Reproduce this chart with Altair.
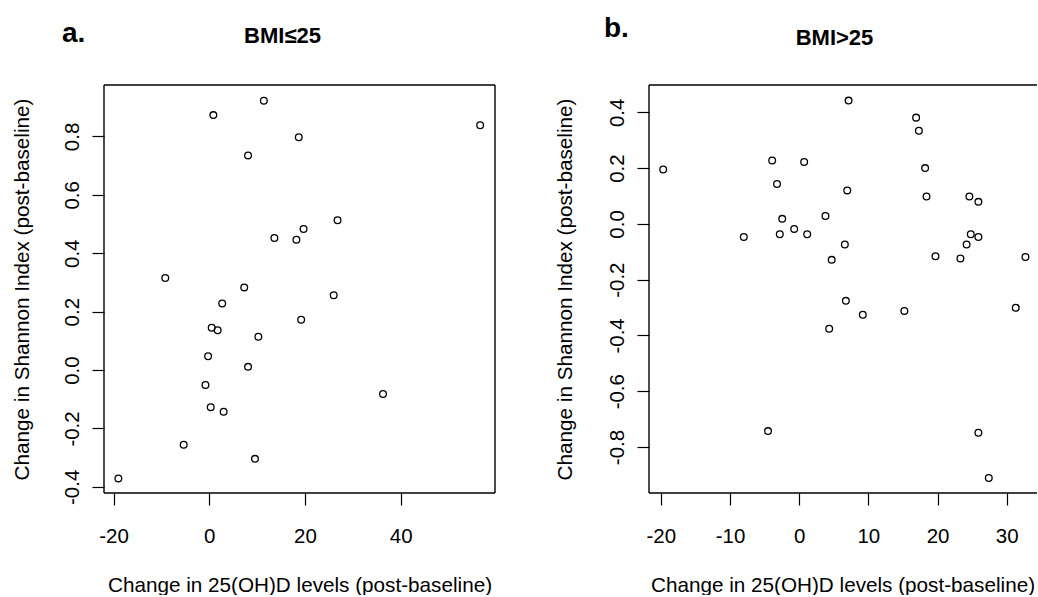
import altair as alt
import pandas as pd

# Panel a: BMI <= 25
a_dvitd = [11.4, 0.85, 56.6, 18.7, 8.1, 26.8, 19.7, 13.6, 18.2, -9.2, 7.3, 26.0, 2.7,
           19.2, 0.5, 1.75, 10.25, -0.25, 8.1, -0.8, 36.3, 0.3, 3.0, -5.35, 9.55, -19.0]
a_dshannon = [0.922, 0.873, 0.838, 0.797, 0.735, 0.513, 0.483, 0.452, 0.446, 0.315, 0.283,
              0.256, 0.228, 0.172, 0.145, 0.136, 0.114, 0.047, 0.011, -0.051, -0.082,
              -0.127, -0.143, -0.256, -0.304, -0.371]

# Panel b: BMI > 25
b_dvitd = [-19.65, 7.14, 16.9, 17.3, -3.9, 0.72, 18.2, -3.2, 6.95, 18.4, 24.6, 25.9, 3.8,
           -2.45, -0.72, -8.0, -2.8, 1.16, 24.8, 25.9, 6.6, 24.2, 19.7, 23.3, 32.7, 4.7,
           6.75, 9.2, 15.2, 31.3, 4.34, -4.5, 25.9, 27.4]
b_dshannon = [0.195, 0.442, 0.381, 0.334, 0.227, 0.222, 0.2, 0.143, 0.12, 0.098, 0.098,
              0.079, 0.028, 0.018, -0.018, -0.047, -0.037, -0.037, -0.037, -0.047, -0.074,
              -0.074, -0.116, -0.124, -0.119, -0.129, -0.276, -0.326, -0.312, -0.301,
              -0.376, -0.743, -0.749, -0.911]

a_xticks = [-20, 0, 20, 40]
a_yticks = [-0.4, -0.2, 0.0, 0.2, 0.4, 0.6, 0.8]
b_xticks = [-20, -10, 0, 10, 20, 30]
b_yticks = [-0.8, -0.6, -0.4, -0.2, 0.0, 0.2, 0.4]

XTITLE = "Change in 25(OH)D levels (post-baseline)"
YTITLE = "Change in Shannon Index (post-baseline)"

FONT = "Liberation Sans"
H = 408
W_A = 391
W_B = 388


def hyphen_fmt(fmt):
    return (f"datum.value < 0 ? '-' + format(-datum.value, '{fmt}') "
            f": format(datum.value, '{fmt}')")


def panel(xs, ys, xdom, ydom, xticks, yticks, width, xtitle_x, ytitle_x,
          tag, tag_pos, title, title_pos, right_edge, anchor=False):
    df = pd.DataFrame({"vitd": xs, "shannon": ys})
    one = pd.DataFrame({"k": [0]})

    x_axis = alt.Axis(
        values=xticks, labelExpr=hyphen_fmt("d"), title=XTITLE,
        domain=False, grid=False, ticks=True, tickSize=12, tickWidth=1.2,
        tickColor="black", labelFont=FONT, labelFontSize=20.5, labelColor="black",
        labelPadding=21, labelBaseline="top", labelAlign="center",
        labelFlush=False, labelOverlap=False,
        titleFont=FONT, titleFontSize=20.7, titleFontWeight="normal",
        titleColor="black", titleX=xtitle_x, titleY=92, titleAlign="center",
        titleBaseline="middle")
    y_axis = alt.Axis(
        values=yticks, labelExpr=hyphen_fmt(".1f"), title=YTITLE,
        domain=False, grid=False, ticks=True, tickSize=12, tickWidth=1.2,
        tickColor="black", labelFont=FONT, labelFontSize=20.5, labelColor="black",
        labelAngle=270, labelAlign="center", labelBaseline="bottom",
        labelPadding=10, labelFlush=False, labelOverlap=False,
        titleFont=FONT, titleFontSize=20.7, titleFontWeight="normal",
        titleColor="black", titleAngle=270, titleX=ytitle_x, titleY=H / 2,
        titleAlign="center", titleBaseline="middle")

    pts = alt.Chart(df).mark_point(
        shape="circle", filled=False, size=45, strokeWidth=1.3,
        color="black", opacity=1
    ).encode(
        x=alt.X("vitd:Q", scale=alt.Scale(domain=xdom, nice=False, zero=False), axis=x_axis),
        y=alt.Y("shannon:Q", scale=alt.Scale(domain=ydom, nice=False, zero=False), axis=y_axis),
    )

    frame = alt.Chart(one).mark_rule(color="black", strokeWidth=1.4)
    top = frame.encode(x=alt.value(0), x2=alt.value(width), y=alt.value(0))
    bottom = frame.encode(x=alt.value(0), x2=alt.value(width), y=alt.value(H))
    left = frame.encode(x=alt.value(0), y=alt.value(0), y2=alt.value(H))
    layers = [pts, top, bottom, left]
    if right_edge:
        layers.append(frame.encode(x=alt.value(width), y=alt.value(0), y2=alt.value(H)))

    tag_txt = alt.Chart(one).mark_text(
        text=tag, font=FONT, fontSize=28, fontWeight="bold", color="black",
        align="left", baseline="alphabetic"
    ).encode(x=alt.value(tag_pos[0]), y=alt.value(tag_pos[1]))
    title_txt = alt.Chart(one).mark_text(
        text=title, font=FONT, fontSize=22, fontWeight="bold", color="black",
        align="center", baseline="alphabetic"
    ).encode(x=alt.value(title_pos[0]), y=alt.value(title_pos[1]))
    layers += [tag_txt, title_txt]

    if anchor:
        # fixes the top-left corner of the figure
        layers.append(alt.Chart(one).mark_rule(opacity=0, strokeWidth=0.01).encode(
            x=alt.value(-104), x2=alt.value(-103), y=alt.value(-85)))

    return alt.layer(*layers).properties(width=width, height=H)


panel_a = panel(a_dvitd, a_dshannon, [-22.0, 59.7], [-0.421, 0.976],
                a_xticks, a_yticks, W_A, 195.5, -82,
                "a.", (-42, -43), "BMI\u226425", (178.5, -42.5), True, anchor=True)
panel_b = panel(b_dvitd, b_dshannon, [-21.7, -21.7 + W_B / 6.92], [-0.965, 0.498],
                b_xticks, b_yticks, W_B, 193.5, -84,
                "b.", (-45, -48.5), "BMI>25", (185.5, -40), False)

chart = alt.hconcat(panel_a, panel_b, spacing=154, bounds="flush").properties(
    padding=0, background="white"
).configure_view(stroke=None)

chart.save("out.html", embed_options={"renderer": "svg", "actions": False})
